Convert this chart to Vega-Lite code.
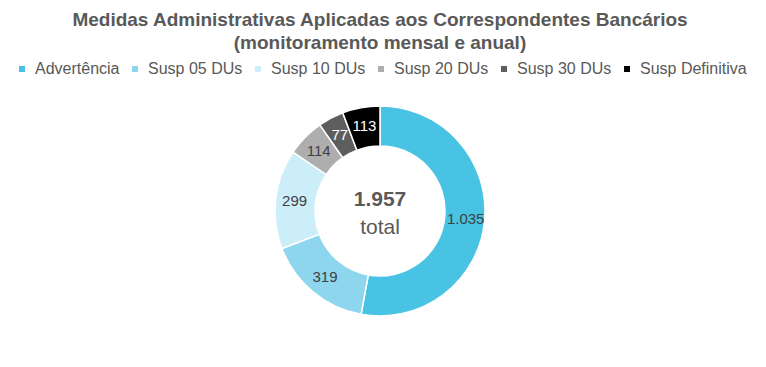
{
  "$schema": "https://vega.github.io/schema/vega-lite/v6.json",
  "width": 760,
  "height": 242,
  "autosize": "none",
  "padding": {"top": 90, "left": 0, "right": 6, "bottom": 35},
  "background": "white",
  "title": {
    "text": ["Medidas Administrativas Aplicadas aos Correspondentes Bancários", "(monitoramento mensal e anual)"],
    "font": "Liberation Sans",
    "fontSize": 19,
    "fontWeight": "bold",
    "color": "#595959",
    "anchor": "middle",
    "lineHeight": 23,
    "offset": 8
  },
  "data": {
    "values": [
      {"cat": "Advertência", "value": 1035, "ord": 1},
      {"cat": "Susp 05 DUs", "value": 319, "ord": 2},
      {"cat": "Susp 10 DUs", "value": 299, "ord": 3},
      {"cat": "Susp 20 DUs", "value": 114, "ord": 4},
      {"cat": "Susp 30 DUs", "value": 77, "ord": 5},
      {"cat": "Susp Definitiva", "value": 113, "ord": 6}
    ]
  },
  "layer": [
    {
      "mark": {"type": "arc", "outerRadius": 105, "innerRadius": 65, "stroke": "white", "strokeWidth": 1.5},
      "encoding": {
        "theta": {"field": "value", "type": "quantitative", "stack": true},
        "order": {"field": "ord", "type": "quantitative"},
        "color": {
          "field": "cat",
          "type": "nominal",
          "scale": {
            "domain": ["Advertência", "Susp 05 DUs", "Susp 10 DUs", "Susp 20 DUs", "Susp 30 DUs", "Susp Definitiva"],
            "range": ["#48C3E3", "#8DD6EE", "#CCEEF8", "#AEAEAE", "#5E5E5E", "#000000"]
          },
          "legend": {
            "orient": "none",
            "legendX": 14,
            "legendY": -29,
            "direction": "horizontal",
            "gridAlign": "none",
            "title": null,
            "symbolType": "square",
            "symbolSize": 36,
            "symbolStrokeWidth": 0,
            "labelFont": "Liberation Sans",
            "labelFontSize": 16,
            "labelColor": "#595959",
            "labelOffset": 5,
            "columnPadding": 7
          }
        }
      }
    },
    {
      "mark": {"type": "text", "radius": 86, "font": "Liberation Sans", "fontSize": 15},
      "encoding": {
        "theta": {"field": "value", "type": "quantitative", "stack": true},
        "order": {"field": "ord", "type": "quantitative"},
        "text": {"field": "value", "type": "quantitative", "format": ",d"},
        "color": {
          "condition": {"test": "datum.ord >= 5", "value": "white"},
          "value": "#404040"
        }
      }
    },
    {
      "transform": [{"aggregate": [{"op": "sum", "field": "value", "as": "total"}]}],
      "mark": {"type": "text", "font": "Liberation Sans", "fontSize": 21, "fontWeight": "bold", "color": "#595959", "dy": -11},
      "encoding": {
        "text": {"field": "total", "type": "quantitative", "format": ",d"}
      }
    },
    {
      "transform": [{"aggregate": [{"op": "count", "as": "n"}]}],
      "mark": {"type": "text", "text": "total", "font": "Liberation Sans", "fontSize": 21, "color": "#595959", "dy": 17},
      "encoding": {}
    }
  ],
  "config": {
    "view": {"stroke": null},
    "locale": {"number": {"decimal": ",", "thousands": ".", "grouping": [3], "currency": ["R$", ""]}}
  }
}
